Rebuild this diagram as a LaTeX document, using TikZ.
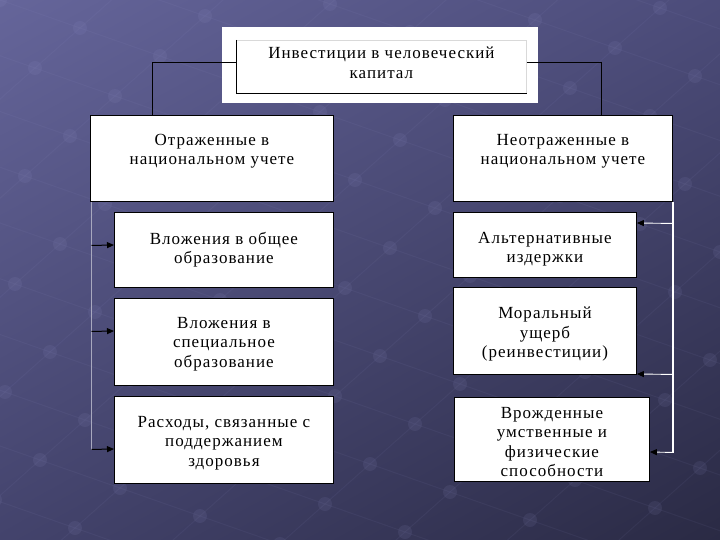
\documentclass[tikz,border=0pt]{standalone}
\usepackage{fontspec}
\setmainfont{Liberation Serif}[LetterSpace=6]
\usetikzlibrary{arrows.meta,calc,shadings}
\definecolor{bgTL}{HTML}{65659A}
\definecolor{bgTR}{HTML}{4C4C7A}
\definecolor{bgBL}{HTML}{43436C}
\definecolor{bgBR}{HTML}{2A2A44}
\definecolor{dotc}{HTML}{9A9AD0}
\definecolor{vline}{HTML}{A8A8BE}
\tikzset{
  box/.style={draw=black, line width=0.9pt, fill=white, inner sep=0pt, anchor=north west},
  lbl/.style={anchor=north, align=center, inner sep=0pt, font=\fontsize{17}{19.5}\selectfont},
  arr/.style={line width=1pt, -{Triangle[length=7pt,width=6pt]}},
  warr/.style={white, line width=0.9pt, -{Triangle[length=7pt,width=6pt,fill=black,color=black]}},
  conn/.style={black, line width=0.9pt}
}
\begin{document}
\begin{tikzpicture}[x=1pt,y=-1pt]
\useasboundingbox (0,0) rectangle (720,540);
\shade[upper left=bgTL, upper right=bgTR, lower left=bgBL, lower right=bgBR] (0,0) rectangle (720,540);
% faint background lattice
\begin{scope}
\clip (0,0) rectangle (720,540);
\foreach \i in {-8,...,14}{
  \draw[dotc, opacity=0.07, line width=1pt] ({\i*80-(-8)*45},{\i*28+(-8)*40}) -- ({\i*80-14*45},{\i*28+14*40});
  \draw[dotc, opacity=0.07, line width=1pt] ({(-8)*80-\i*45},{(-8)*28+\i*40}) -- ({14*80-\i*45},{14*28+\i*40});
}
\foreach \i in {-8,...,14}{
  \foreach \j in {-8,...,14}{
    \fill[dotc, opacity=0.1] ({\i*80-\j*45},{\i*28+\j*40}) circle (7);
  }
}
\end{scope}
% top
\fill[white] (222,27) rectangle (538,103);
\node[box, draw=black!15, minimum width=290pt, minimum height=53pt] (T) at (236,40) {};
\draw[black, line width=0.9pt] (T.north west) -- (T.south west) -- (T.south east);
\node[lbl] (tT) at ($(T.north)+(0,7)$) {Инвестиции в человеческий\\капитал};
% level 1
\node[box, minimum width=243pt, minimum height=86pt] (L0) at (90,115) {};
\node[lbl] (tL0) at ($(L0.north)+(0,19)$) {Отраженные в\\национальном учете};
\node[box, minimum width=219pt, minimum height=86pt] (R0) at (453,115) {};
\node[lbl] (tR0) at ($(R0.north)+(0,19)$) {Неотраженные в\\национальном учете};
% left column
\node[box, minimum width=219pt, minimum height=75pt] (L1) at (114,212) {};
\node[lbl] (tL1) at ($(L1.north)+(0,20)$) {Вложения в общее\\образование};
\node[box, minimum width=219pt, minimum height=87pt] (L2) at (114,298) {};
\node[lbl] (tL2) at ($(L2.north)+(0,19)$) {Вложения в\\специальное\\образование};
\node[box, minimum width=219pt, minimum height=87pt] (L3) at (114,396) {};
\node[lbl] (tL3) at ($(L3.north)+(0,20)$) {Расходы, связанные  с\\поддержанием\\здоровья};
% right column
\node[box, minimum width=183pt, minimum height=65pt] (R1) at (453,212) {};
\node[lbl] (tR1) at ($(R1.north)+(0,20)$) {Альтернативные\\издержки};
\node[box, minimum width=183pt, minimum height=87pt] (R2) at (453,287) {};
\node[lbl] (tR2) at ($(R2.north)+(0,20)$) {Моральный\\ущерб\\(реинвестиции)};
\node[box, minimum width=195pt, minimum height=84pt] (R3) at (454,397) {};
\node[lbl] (tR3) at ($(R3.north)+(0,10)$) {Врожденные\\умственные и\\физические\\способности};
% connectors top
\draw[conn] ($(T.west)+(0,-4.5)$) -| ($(L0.north)+(-59.5,0)$);
\draw[conn] ($(T.east)+(0,-4.5)$) -| ($(R0.north)+(38.5,0)$);
% left bus
\coordinate (lb) at ($(L0.south west)+(1.5,0)$);
\draw[vline, line width=1.5pt] (lb) -- ($(lb)+(0,248)$);
\draw[arr] ($(L1.west)+(-22.5,-4.5)$) -- (L1.west |- 0,245);
\draw[arr] ($(L2.west)+(-22.5,-10.5)$) -- (L2.west |- 0,331);
\draw[arr] ($(L3.west)+(-22.5,9.5)$) -- (L3.west |- 0,449);
% right bus
\coordinate (rb) at (R0.south east);
\draw[white, line width=1.3pt] (rb) -- ($(rb)+(0,251)$);
\draw[warr] ($(R1.east)+(36,-21.5)$) -- (R1.east |- 0,223);
\draw[warr] ($(R2.east)+(36,43.5)$) -- (R2.east |- 0,374);
\draw[warr] ($(R3.east)+(23,13)$) -- (R3.east |- 0,452);
\end{tikzpicture}
\end{document}
